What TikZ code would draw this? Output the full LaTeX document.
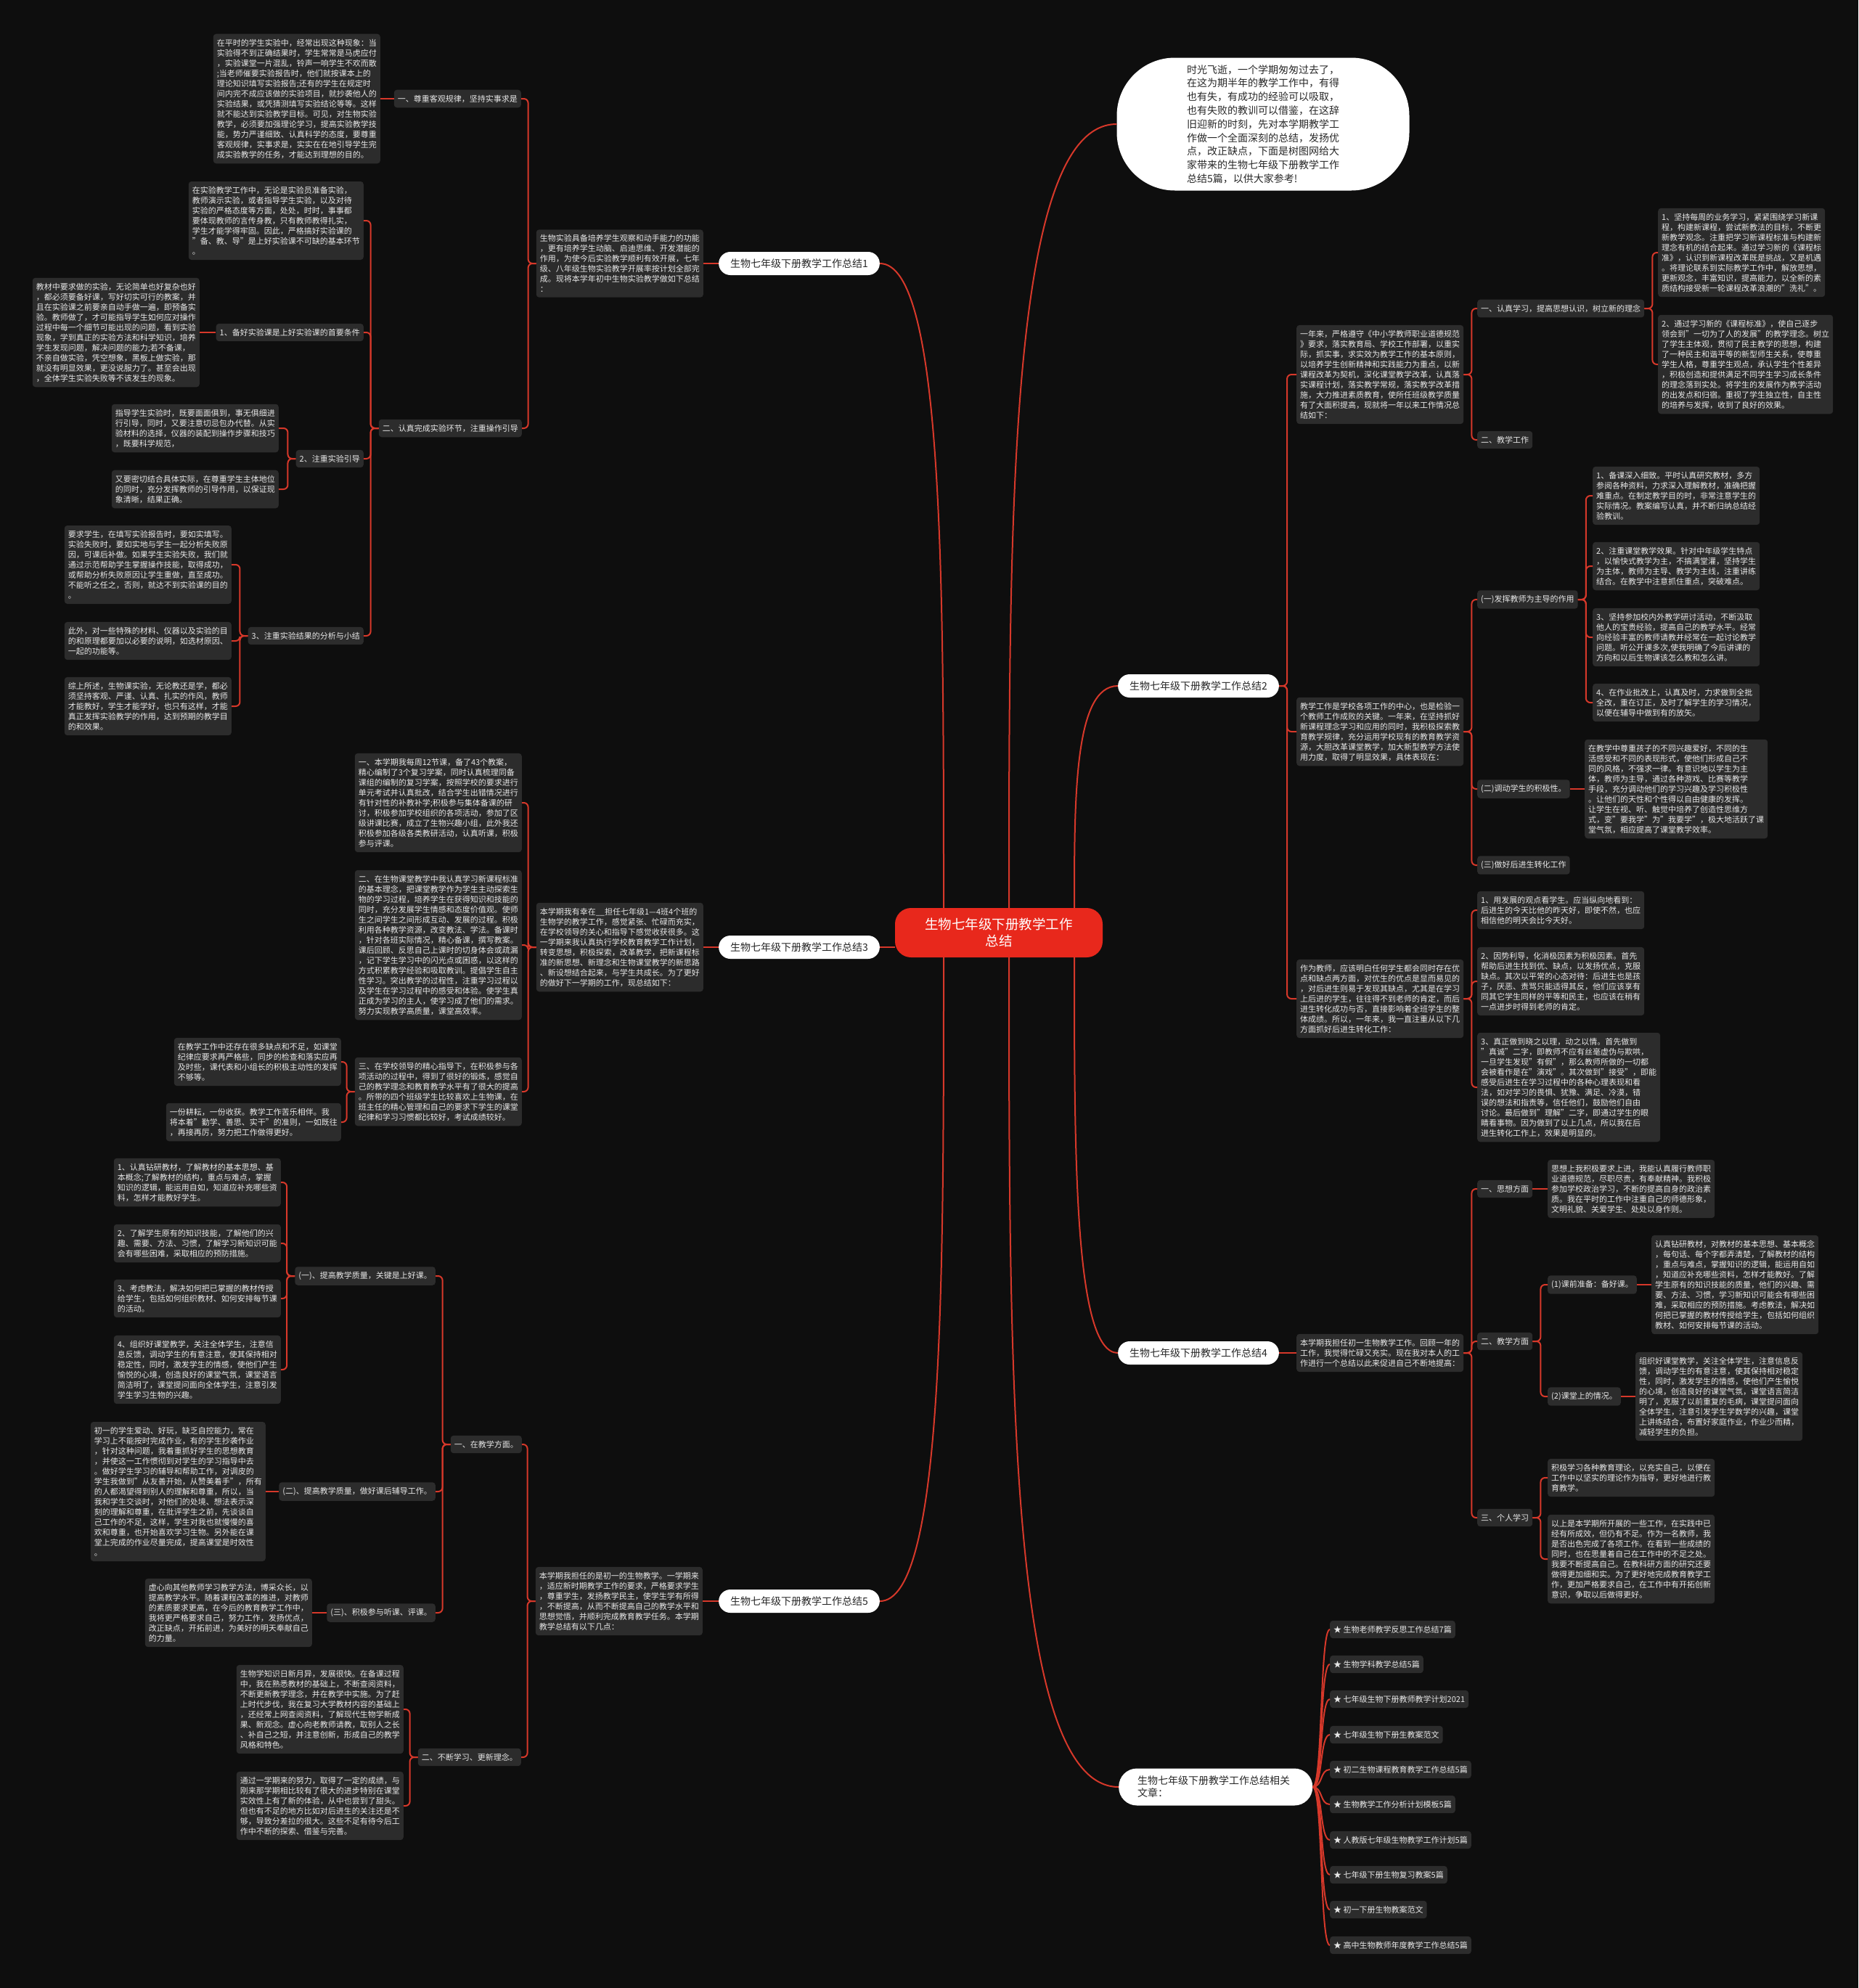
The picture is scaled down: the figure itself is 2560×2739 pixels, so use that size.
\documentclass[tikz,border=0pt]{standalone}
\usepackage{fontspec}
\setmainfont{Noto Sans CJK SC}
\usepackage{xcolor}
\usepackage{tikz}
\usetikzlibrary{calc}

\definecolor{bgdark}{RGB}{14,14,14}
\definecolor{boxgray}{RGB}{44,44,44}
\definecolor{txtlight}{RGB}{232,232,232}
\definecolor{linered}{RGB}{214,56,42}
\definecolor{rootred}{RGB}{232,40,28}
\definecolor{pilltxt}{RGB}{40,40,40}

% elbow links: left-hand tree and right-hand tree
\newcommand\lk[2]{\draw[lnk] (#1.west) -- ++(-11,0) |- (#2.east);}
\newcommand\rk[2]{\draw[lnk] (#1.east) -- ++(11,0) |- (#2.west);}

\begin{document}
\begin{tikzpicture}[x=1pt,y=-1pt,
  blk/.style={fill=boxgray,text=txtlight,rounded corners=4pt,align=left,font=\fontsize{11}{14}\selectfont,inner xsep=5pt,inner ysep=7pt},
  pill/.style={fill=white,text=pilltxt,rounded corners=16pt,font=\fontsize{14}{17}\selectfont,minimum height=32pt,inner xsep=16pt,inner ysep=0pt},
  root/.style={fill=rootred,text=white,rounded corners=22pt,align=center,font=\fontsize{18.5}{23}\selectfont,minimum width=286pt,minimum height=68pt},
  lnk/.style={draw=linered,line width=2pt,rounded corners=6pt}]
\fill[bgdark] (0,0) rectangle (2560,2739);
\useasboundingbox (0,0) rectangle (2560,2739);

\node[root] (c) at (1376,1285) {生物七年级下册教学工作\\总结};
\coordinate (sA) at ($(c.north)+(-76,0)$);
\coordinate (sB) at ($(c.north)+(14,0)$);
\coordinate (sC) at ($(c.north)+(104,0)$);
\coordinate (sD) at ($(c.south)+(-76,0)$);
\coordinate (sE) at ($(c.south)+(14,0)$);
\coordinate (sF) at ($(c.south)+(104,0)$);

\node[pill] (b1) at (1101,363) {生物七年级下册教学工作总结1};
\node[pill] (b3) at (1101,1305) {生物七年级下册教学工作总结3};
\node[pill] (b5) at (1101,2206) {生物七年级下册教学工作总结5};
\node[pill] (b2) at (1651,945) {生物七年级下册教学工作总结2};
\node[pill] (b4) at (1651,1864) {生物七年级下册教学工作总结4};
\node[fill=white,text=pilltxt,rounded corners=80pt,align=left,font=\fontsize{14}{18.8}\selectfont,minimum width=403pt,minimum height=183pt] (intro) at (1740,171) {时光飞逝，一个学期匆匆过去了，\\在这为期半年的教学工作中，有得\\也有失，有成功的经验可以吸取，\\也有失败的教训可以借鉴，在这辞\\旧迎新的时刻，先对本学期教学工\\作做一个全面深刻的总结，发扬优\\点，改正缺点，下面是树图网给大\\家带来的生物七年级下册教学工作\\总结5篇，以供大家参考!};
\node[fill=white,text=pilltxt,rounded corners=25pt,align=left,font=\fontsize{14}{17}\selectfont,minimum height=51pt,inner xsep=26pt,text width=215pt,anchor=west] (rel) at (1541,2462) {生物七年级下册教学工作总结相关\\文章：};

\draw[lnk] (sA) .. controls ($(sA)!0.5!(sA|-b1.east)$) and (sA|-b1.east) .. (b1.east);
\draw[lnk] (b3.east) -- (b3.east -| c.west);
\draw[lnk] (sD) .. controls ($(sD)!0.5!(sD|-b5.east)$) and (sD|-b5.east) .. (b5.east);
\draw[lnk] (sB) .. controls ($(sB)!0.5!(sB|-intro.west)$) and (sB|-intro.west) .. (intro.west);
\draw[lnk] (sC) .. controls ($(sC)!0.5!(sC|-b2.west)$) and (sC|-b2.west) .. (b2.west);
\draw[lnk] (sF) .. controls ($(sF)!0.5!(sF|-b4.west)$) and (sF|-b4.west) .. (b4.west);
\draw[lnk] (sE) .. controls ($(sE)!0.5!(sE|-rel.west)$) and (sE|-rel.west) .. (rel.west);

% branch 1
\node[blk,anchor=east] (t1) at (969,363) {生物实验具备培养学生观察和动手能力的功能\\，更有培养学生动脑、启迪思维、开发潜能的\\作用，为使今后实验教学顺利有效开展，七年\\级、八年级生物实验教学开展率按计划全部完\\成。现将本学年初中生物实验教学做如下总结\\：};
\node[blk,anchor=east] (t1a) at (718,136) {一、尊重客观规律，坚持实事求是};
\node[blk,anchor=east] (t1a1) at (524,136) {在平时的学生实验中，经常出现这种现象：当\\实验得不到正确结果时，学生常常是马虎应付\\，实验课堂一片混乱，铃声一响学生不欢而散\\;当老师催要实验报告时，他们就按课本上的\\理论知识填写实验报告;还有的学生在规定时\\间内完不成应该做的实验项目，就抄袭他人的\\实验结果，或凭猜测填写实验结论等等。这样\\就不能达到实验教学目标。可见，对生物实验\\教学，必须要加强理论学习，提高实验教学技\\能，势力严谨细致、认真科学的态度，要尊重\\客观规律，实事求是，实实在在地引导学生完\\成实验教学的任务，才能达到理想的目的。};
\node[blk,anchor=east] (t1b) at (719,590) {二、认真完成实验环节，注重操作引导};
\node[blk,anchor=east] (t1b0) at (501,304) {在实验教学工作中，无论是实验员准备实验，\\教师演示实验，或者指导学生实验，以及对待\\实验的严格态度等方面，处处，时时，事事都\\要体现教师的言传身教，只有教师教得扎实，\\学生才能学得牢固。因此，严格搞好实验课的\\"备、教、导"是上好实验课不可缺的基本环节\\。};
\node[blk,anchor=east] (t1b1) at (501,458) {1、备好实验课是上好实验课的首要条件};
\node[blk,anchor=east] (t1b1a) at (275,458) {教材中要求做的实验，无论简单也好复杂也好\\，都必须要备好课，写好切实可行的教案，并\\且在实验课之前要亲自动手做一遍，即预备实\\验。教师做了，才可能指导学生如何应对操作\\过程中每一个细节可能出现的问题，看到实验\\现象，学到真正的实验方法和科学知识，培养\\学生发现问题，解决问题的能力;若不备课，\\不亲自做实验，凭空想象，黑板上做实验，那\\就没有明显效果，更没说服力了。甚至会出现\\，全体学生实验失败等不该发生的现象。};
\node[blk,anchor=east] (t1b2) at (501,632) {2、注重实验引导};
\node[blk,anchor=east] (t1b2a) at (384,590) {指导学生实验时，既要面面俱到，事无俱细进\\行引导，同时，又要注意切忌包办代替。从实\\验材料的选择，仪器的装配到操作步骤和技巧\\，既要科学规范，};
\node[blk,anchor=east] (t1b2b) at (384,674) {又要密切结合具体实际，在尊重学生主体地位\\的同时，充分发挥教师的引导作用，以保证现\\象清晰，结果正确。};
\node[blk,anchor=east] (t1b3) at (501,876) {3、注重实验结果的分析与小结};
\node[blk,anchor=east] (t1b3a) at (319,778) {要求学生，在填写实验报告时，要如实填写。\\实验失败时，要如实地与学生一起分析失败原\\因，可课后补做。如果学生实验失败，我们就\\通过示范帮助学生掌握操作技能，取得成功，\\或帮助分析失败原因让学生重做，直至成功。\\不能听之任之，否则，就达不到实验课的目的\\。};
\node[blk,anchor=east] (t1b3b) at (319,883) {此外，对一些特殊的材料、仪器以及实验的目\\的和原理都要加以必要的说明，如选材原因、\\一起的功能等。};
\node[blk,anchor=east] (t1b3c) at (319,973) {综上所述，生物课实验，无论教还是学，都必\\须坚持客观、严谨、认真、扎实的作风，教师\\才能教好，学生才能学好，也只有这样，才能\\真正发挥实验教学的作用，达到预期的教学目\\的和效果。};
\draw[lnk] (b1.west) -- (t1.east);
\lk{t1}{t1a} \lk{t1}{t1b}
\draw[lnk] (t1a.west) -- (t1a1.east);
\lk{t1b}{t1b0} \lk{t1b}{t1b1} \lk{t1b}{t1b2} \lk{t1b}{t1b3}
\draw[lnk] (t1b1.west) -- (t1b1a.east);
\lk{t1b2}{t1b2a} \lk{t1b2}{t1b2b}
\lk{t1b3}{t1b3a} \lk{t1b3}{t1b3b} \lk{t1b3}{t1b3c}

% branch 3
\node[blk,anchor=east] (t3) at (969,1305) {本学期我有幸在\_\_担任七年级1—4班4个班的\\生物学的教学工作，感觉紧张、忙碌而充实，\\在学校领导的关心和指导下感觉收获很多。这\\一学期来我认真执行学校教育教学工作计划，\\转变思想，积极探索，改革教学，把新课程标\\准的新思想、新理念和生物课堂教学的新思路\\、新设想结合起来，与学生共成长。为了更好\\的做好下一学期的工作，现总结如下：};
\node[blk,anchor=east] (t3a) at (719,1106) {一、本学期我每周12节课，备了43个教案，\\精心编制了3个复习学案，同时认真梳理同备\\课组的编制的复习学案，按照学校的要求进行\\单元考试并认真批改，结合学生出错情况进行\\有针对性的补教补学;积极参与集体备课的研\\讨，积极参加学校组织的各项活动，参加了区\\级讲课比赛，成立了生物兴趣小组，此外我还\\积极参加各级各类教研活动，认真听课，积极\\参与评课。};
\node[blk,anchor=east] (t3b) at (719,1302) {二、在生物课堂教学中我认真学习新课程标准\\的基本理念，把课堂教学作为学生主动探索生\\物的学习过程，培养学生在获得知识和技能的\\同时，充分发展学生情感和态度价值观。使师\\生之间学生之间形成互动、发展的过程。积极\\利用各种教学资源，改变教法、学法。备课时\\，针对各班实际情况，精心备课，撰写教案。\\课后回顾、反思自己上课时的切身体会或疏漏\\，记下学生学习中的闪光点或困惑，以这样的\\方式积累教学经验和吸取教训。提倡学生自主\\性学习。突出教学的过程性，注重学习过程以\\及学生在学习过程中的感受和体验。使学生真\\正成为学习的主人，使学习成了他们的需求。\\努力实现教学高质量，课堂高效率。};
\node[blk,anchor=east] (t3c) at (719,1504) {三、在学校领导的精心指导下，在积极参与各\\项活动的过程中，得到了很好的锻炼，感觉自\\己的教学理念和教育教学水平有了很大的提高\\。所带的四个班级学生比较喜欢上生物课，在\\班主任的精心管理和自己的要求下学生的课堂\\纪律和学习习惯都比较好，考试成绩较好。};
\node[blk,anchor=east] (t3c1) at (470,1463) {在教学工作中还存在很多缺点和不足，如课堂\\纪律应要求再严格些，同步的检查和落实应再\\及时些，课代表和小组长的积极主动性的发挥\\不够等。};
\node[blk,anchor=east] (t3c2) at (470,1546) {一份耕耘，一份收获。教学工作苦乐相伴。我\\将本着"勤学、善思、实干"的准则，一如既往\\，再接再厉，努力把工作做得更好。};
\draw[lnk] (b3.west) -- (t3.east);
\lk{t3}{t3a} \lk{t3}{t3b} \lk{t3}{t3c}
\lk{t3c}{t3c1} \lk{t3c}{t3c2}

% branch 5
\node[blk,anchor=east] (t5) at (968,2206) {本学期我担任的是初一的生物教学。一学期来\\，适应新时期教学工作的要求，严格要求学生\\，尊重学生，发扬教学民主，使学生学有所得\\，不断提高，从而不断提高自己的教学水平和\\思想觉悟，并顺利完成教育教学任务。本学期\\教学总结有以下几点：};
\node[blk,anchor=east] (t5a) at (719,1990) {一、在教学方面。};
\node[blk,anchor=east] (t5a1) at (600,1758) {(一)、提高教学质量，关键是上好课。};
\node[blk,anchor=east] (t5a1a) at (387,1629) {1、认真钻研教材，了解教材的基本思想、基\\本概念;了解教材的结构，重点与难点，掌握\\知识的逻辑，能运用自如，知道应补充哪些资\\料，怎样才能教好学生。};
\node[blk,anchor=east] (t5a1b) at (387,1713) {2、了解学生原有的知识技能，了解他们的兴\\趣、需要、方法、习惯，了解学习新知识可能\\会有哪些困难，采取相应的预防措施。};
\node[blk,anchor=east] (t5a1c) at (387,1789) {3、考虑教法，解决如何把已掌握的教材传授\\给学生，包括如何组织教材、如何安排每节课\\的活动。};
\node[blk,anchor=east] (t5a1d) at (387,1887) {4、组织好课堂教学，关注全体学生，注意信\\息反馈，调动学生的有意注意，使其保持相对\\稳定性，同时，激发学生的情感，使他们产生\\愉悦的心境，创造良好的课堂气氛，课堂语言\\简洁明了，课堂提问面向全体学生，注意引发\\学生学习生物的兴趣。};
\node[blk,anchor=east] (t5a2) at (600,2055) {(二)、提高教学质量，做好课后辅导工作。};
\node[blk,anchor=east] (t5a2a) at (366,2055) {初一的学生爱动、好玩，缺乏自控能力，常在\\学习上不能按时完成作业，有的学生抄袭作业\\，针对这种问题，我着重抓好学生的思想教育\\，并使这一工作惯彻到对学生的学习指导中去\\。做好学生学习的辅导和帮助工作，对调皮的\\学生我做到"从友善开始，从赞美着手"，所有\\的人都渴望得到别人的理解和尊重，所以，当\\我和学生交谈时，对他们的处境、想法表示深\\刻的理解和尊重，在批评学生之前，先谈谈自\\己工作的不足，这样，学生对我也就慢慢的喜\\欢和尊重，也开始喜欢学习生物。另外能在课\\堂上完成的作业尽量完成，提高课堂是时效性\\。};
\node[blk,anchor=east] (t5a3) at (600,2222) {(三)、积极参与听课、评课。};
\node[blk,anchor=east] (t5a3a) at (430,2222) {虚心向其他教师学习教学方法，博采众长，以\\提高教学水平。随着课程改革的推进，对教师\\的素质要求更高，在今后的教育教学工作中，\\我将更严格要求自己，努力工作，发扬优点，\\改正缺点，开拓前进，为美好的明天奉献自己\\的力量。};
\node[blk,anchor=east] (t5b) at (718,2421) {二、不断学习、更新理念。};
\node[blk,anchor=east] (t5b1) at (556,2355) {生物学知识日新月异，发展很快。在备课过程\\中，我在熟悉教材的基础上，不断查阅资料，\\不断更新教学理念，并在教学中实施。为了赶\\上时代步伐，我在复习大学教材内容的基础上\\，还经常上网查阅资料，了解现代生物学新成\\果、新观念。虚心向老教师请教，取别人之长\\、补自己之短，并注意创新，形成自己的教学\\风格和特色。};
\node[blk,anchor=east] (t5b2) at (556,2488) {通过一学期来的努力，取得了一定的成绩，与\\刚来那学期相比较有了很大的进步特别在课堂\\实效性上有了新的体验，从中也尝到了甜头。\\但也有不足的地方比如对后进生的关注还是不\\够，导致分差拉的很大。这些不足有待今后工\\作中不断的探索、借鉴与完善。};
\draw[lnk] (b5.west) -- (t5.east);
\lk{t5}{t5a} \lk{t5}{t5b}
\lk{t5a}{t5a1} \lk{t5a}{t5a2} \lk{t5a}{t5a3}
\lk{t5a1}{t5a1a} \lk{t5a1}{t5a1b} \lk{t5a1}{t5a1c} \lk{t5a1}{t5a1d}
\draw[lnk] (t5a2.west) -- (t5a2a.east);
\draw[lnk] (t5a3.west) -- (t5a3a.east);
\lk{t5b}{t5b1} \lk{t5b}{t5b2}

% branch 2
\node[blk,anchor=west] (t2a) at (1786,516) {一年来，严格遵守《中小学教师职业道德规范\\》要求，落实教育局、学校工作部署，以重实\\际，抓实事，求实效为教学工作的基本原则，\\以培养学生创新精神和实践能力为重点，以新\\课程改革为契机，深化课堂教学改革，认真落\\实课程计划，落实教学常规，落实教学改革措\\施，大力推进素质教育，使所任班级教学质量\\有了大面积提高，现就将一年以来工作情况总\\结如下：};
\node[blk,anchor=west] (t2a1) at (2035,425) {一、认真学习，提高思想认识，树立新的理念};
\node[blk,anchor=west] (t2a1a) at (2284,348) {1、坚持每周的业务学习，紧紧围绕学习新课\\程，构建新课程，尝试新教法的目标，不断更\\新教学观念。注重把学习新课程标准与构建新\\理念有机的结合起来。通过学习新的《课程标\\准》，认识到新课程改革既是挑战，又是机遇\\。将理论联系到实际教学工作中，解放思想，\\更新观念，丰富知识，提高能力，以全新的素\\质结构接受新一轮课程改革浪潮的"洗礼"。};
\node[blk,anchor=west] (t2a1b) at (2284,502) {2、通过学习新的《课程标准》，使自己逐步\\领会到"一切为了人的发展"的教学理念。树立\\了学生主体观，贯彻了民主教学的思想，构建\\了一种民主和谐平等的新型师生关系，使尊重\\学生人格，尊重学生观点，承认学生个性差异\\，积极创造和提供满足不同学生学习成长条件\\的理念落到实处。将学生的发展作为教学活动\\的出发点和归宿。重视了学生独立性，自主性\\的培养与发挥，收到了良好的效果。};
\node[blk,anchor=west] (t2a2) at (2035,606) {二、教学工作};
\node[blk,anchor=west] (t2b) at (1786,1008) {教学工作是学校各项工作的中心，也是检验一\\个教师工作成败的关键。一年来，在坚持抓好\\新课程理念学习和应用的同时，我积极探索教\\育教学规律，充分运用学校现有的教育教学资\\源，大胆改革课堂教学，加大新型教学方法使\\用力度，取得了明显效果，具体表现在：};
\node[blk,anchor=west] (t2b1) at (2035,826) {(一)发挥教师为主导的作用};
\node[blk,anchor=west] (t2b1a) at (2194,683) {1、备课深入细致。平时认真研究教材，多方\\参阅各种资料，力求深入理解教材，准确把握\\难重点。在制定教学目的时，非常注意学生的\\实际情况。教案编写认真，并不断归纳总结经\\验教训。};
\node[blk,anchor=west] (t2b1b) at (2194,780) {2、注重课堂教学效果。针对中年级学生特点\\，以愉快式教学为主，不搞满堂灌，坚持学生\\为主体，教师为主导、教学为主线，注重讲练\\结合。在教学中注意抓住重点，突破难点。};
\node[blk,anchor=west] (t2b1c) at (2194,878) {3、坚持参加校内外教学研讨活动，不断汲取\\他人的宝贵经验，提高自己的教学水平。经常\\向经验丰富的教师请教并经常在一起讨论教学\\问题。听公开课多次,使我明确了今后讲课的\\方向和以后生物课该怎么教和怎么讲。};
\node[blk,anchor=west] (t2b1d) at (2194,968) {4、在作业批改上，认真及时，力求做到全批\\全改，重在订正，及时了解学生的学习情况，\\以便在辅导中做到有的放矢。};
\node[blk,anchor=west] (t2b2) at (2035,1087) {(二)调动学生的积极性。};
\node[blk,anchor=west] (t2b2a) at (2183,1087) {在教学中尊重孩子的不同兴趣爱好，不同的生\\活感受和不同的表现形式，使他们形成自己不\\同的风格，不强求一律。有意识地以学生为主\\体，教师为主导，通过各种游戏、比赛等教学\\手段，充分调动他们的学习兴趣及学习积极性\\。让他们的天性和个性得以自由健康的发挥。\\让学生在视、听、触觉中培养了创造性思维方\\式，变"要我学"为"我要学"，极大地活跃了课\\堂气氛，相应提高了课堂教学效率。};
\node[blk,anchor=west] (t2b3) at (2035,1192) {(三)做好后进生转化工作};
\node[blk,anchor=west] (t2c) at (1786,1376) {作为教师，应该明白任何学生都会同时存在优\\点和缺点两方面，对优生的优点是显而易见的\\，对后进生则易于发现其缺点，尤其是在学习\\上后进的学生，往往得不到老师的肯定，而后\\进生转化成功与否，直接影响着全班学生的整\\体成绩。所以，一年来，我一直注重从以下几\\方面抓好后进生转化工作：};
\node[blk,anchor=west] (t2c1) at (2035,1254) {1、用发展的观点看学生。应当纵向地看到：\\后进生的今天比他的昨天好，即使不然，也应\\相信他的明天会比今天好。};
\node[blk,anchor=west] (t2c2) at (2035,1352) {2、因势利导，化消极因素为积极因素。首先\\帮助后进生找到优、缺点，以发扬优点，克服\\缺点。其次以平常的心态对待：后进生也是孩\\子，厌恶、责骂只能适得其反，他们应该享有\\同其它学生同样的平等和民主，也应该在稍有\\一点进步时得到老师的肯定。};
\node[blk,anchor=west] (t2c3) at (2035,1498) {3、真正做到晓之以理，动之以情。首先做到\\"真诚"二字，即教师不应有丝毫虚伪与欺哄，\\一旦学生发现"有假"，那么教师所做的一切都\\会被看作是在"演戏"。其次做到"接受"，即能\\感受后进生在学习过程中的各种心理表现和看\\法，如对学习的畏惧、犹豫、满足、冷漠，错\\误的想法和指责等，信任他们，鼓励他们自由\\讨论。最后做到"理解"二字，即通过学生的眼\\睛看事物。因为做到了以上几点，所以我在后\\进生转化工作上，效果是明显的。};
\rk{b2}{t2a} \rk{b2}{t2b} \rk{b2}{t2c}
\rk{t2a}{t2a1} \rk{t2a}{t2a2}
\rk{t2a1}{t2a1a} \rk{t2a1}{t2a1b}
\rk{t2b}{t2b1} \rk{t2b}{t2b2} \rk{t2b}{t2b3}
\rk{t2b1}{t2b1a} \rk{t2b1}{t2b1b} \rk{t2b1}{t2b1c} \rk{t2b1}{t2b1d}
\draw[lnk] (t2b2.east) -- (t2b2a.west);
\rk{t2c}{t2c1} \rk{t2c}{t2c2} \rk{t2c}{t2c3}

% branch 4
\node[blk,anchor=west] (t4) at (1786,1864) {本学期我担任初一生物教学工作。回顾一年的\\工作，我觉得忙碌又充实。现在我对本人的工\\作进行一个总结以此来促进自己不断地提高：};
\node[blk,anchor=west] (t4a) at (2035,1638) {一、思想方面};
\node[blk,anchor=west] (t4a1) at (2132,1638) {思想上我积极要求上进，我能认真履行教师职\\业道德规范，尽职尽责，有奉献精神。我积极\\参加学校政治学习，不断的提高自身的政治素\\质。我在平时的工作中注重自己的师德形象，\\文明礼貌、关爱学生、处处以身作则。};
\node[blk,anchor=west] (t4b) at (2035,1848) {二、教学方面};
\node[blk,anchor=west] (t4b1) at (2132,1770) {(1)课前准备：备好课。};
\node[blk,anchor=west] (t4b1a) at (2275,1770) {认真钻研教材，对教材的基本思想、基本概念\\，每句话、每个字都弄清楚，了解教材的结构\\，重点与难点，掌握知识的逻辑，能运用自如\\，知道应补充哪些资料，怎样才能教好。了解\\学生原有的知识技能的质量，他们的兴趣、需\\要、方法、习惯，学习新知识可能会有哪些困\\难，采取相应的预防措施。考虑教法，解决如\\何把已掌握的教材传授给学生，包括如何组织\\教材、如何安排每节课的活动。};
\node[blk,anchor=west] (t4b2) at (2132,1924) {(2)课堂上的情况。};
\node[blk,anchor=west] (t4b2a) at (2253,1924) {组织好课堂教学，关注全体学生，注意信息反\\馈，调动学生的有意注意，使其保持相对稳定\\性，同时，激发学生的情感，使他们产生愉悦\\的心境，创造良好的课堂气氛，课堂语言简洁\\明了，克服了以前重复的毛病，课堂提问面向\\全体学生，注意引发学生学数学的兴趣，课堂\\上讲练结合，布置好家庭作业，作业少而精，\\减轻学生的负担。};
\node[blk,anchor=west] (t4c) at (2035,2091) {三、个人学习};
\node[blk,anchor=west] (t4c1) at (2132,2036) {积极学习各种教育理论，以充实自己，以便在\\工作中以坚实的理论作为指导，更好地进行教\\育教学。};
\node[blk,anchor=west] (t4c2) at (2132,2148) {以上是本学期所开展的一些工作，在实践中已\\经有所成效，但仍有不足。作为一名教师，我\\是否出色完成了各项工作。在看到一些成绩的\\同时，也在思量着自己在工作中的不足之处。\\我要不断提高自己。在教科研方面的研究还要\\做得更加细和实。为了更好地完成教育教学工\\作，更加严格要求自己，在工作中有开拓创新\\意识，争取以后做得更好。};
\draw[lnk] (b4.east) -- (t4.west);
\rk{t4}{t4a} \rk{t4}{t4b} \rk{t4}{t4c}
\draw[lnk] (t4a.east) -- (t4a1.west);
\rk{t4b}{t4b1} \rk{t4b}{t4b2}
\draw[lnk] (t4b1.east) -- (t4b1a.west);
\draw[lnk] (t4b2.east) -- (t4b2a.west);
\rk{t4c}{t4c1} \rk{t4c}{t4c2}

% related articles
\node[blk,anchor=west] (r1) at (1832,2245) {★ 生物老师教学反思工作总结7篇};
\node[blk,anchor=west] (r2) at (1832,2293) {★ 生物学科教学总结5篇};
\node[blk,anchor=west] (r3) at (1832,2341) {★ 七年级生物下册教师教学计划2021};
\node[blk,anchor=west] (r4) at (1832,2390) {★ 七年级生物下册生教案范文};
\node[blk,anchor=west] (r5) at (1832,2438) {★ 初二生物课程教育教学工作总结5篇};
\node[blk,anchor=west] (r6) at (1832,2486) {★ 生物教学工作分析计划模板5篇};
\node[blk,anchor=west] (r7) at (1832,2535) {★ 人教版七年级生物教学工作计划5篇};
\node[blk,anchor=west] (r8) at (1832,2583) {★ 七年级下册生物复习教案5篇};
\node[blk,anchor=west] (r9) at (1832,2631) {★ 初一下册生物教案范文};
\node[blk,anchor=west] (r10) at (1832,2680) {★ 高中生物教师年度教学工作总结5篇};
\foreach \r in {r1,r2,r3,r4,r5,r6,r7,r8,r9,r10}
  \draw[lnk] (rel.east) .. controls +(14,0) and +(-14,0) .. (\r.west);
\end{tikzpicture}
\end{document}
